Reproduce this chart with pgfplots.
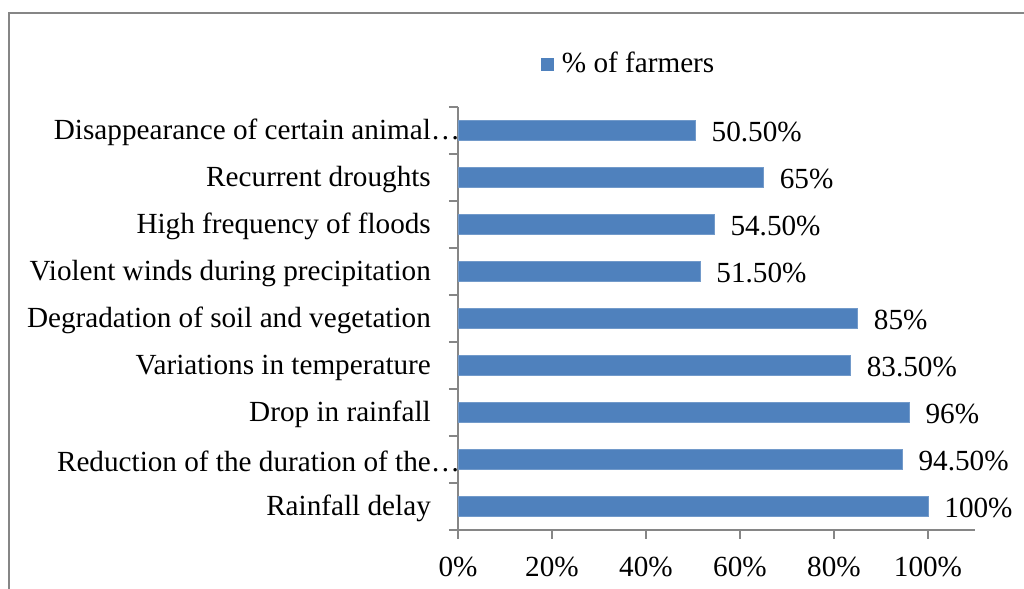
\documentclass[border=0pt]{standalone}
\usepackage{fontspec}
\setmainfont{Liberation Serif}
\usepackage{pgfplots}
\pgfplotsset{compat=1.18}
\definecolor{barblue}{HTML}{4F81BD}
\definecolor{axgray}{HTML}{868686}
\newcommand{\fsz}{\fontsize{14.6pt}{17pt}\selectfont}
\begin{document}
\fsz
\begin{tikzpicture}
\path[use as bounding box] (0pt,0pt) rectangle (512pt,294.5pt);
\draw[axgray, line width=1pt] (4.5pt,0pt) -- (4.5pt,288pt) -- (512pt,288pt);
\begin{axis}[
  at={(229pt,29.5pt)}, anchor=south west,
  scale only axis, width=258.5pt, height=211.5pt,
  xmin=0, xmax=110, ymin=-0.5, ymax=8.5,
  axis lines=left, axis line style={-, axgray, line width=1pt},
  xtick={0,20,...,100},
  xticklabel={\pgfmathprintnumber{\tick}\%},
  /pgf/number format/assume math mode=true,
  ytick={0,...,8},
  yticklabels={Rainfall delay, Reduction of the duration of the\rlap{…}, Drop in rainfall, Variations in temperature, Degradation of soil and vegetation, Violent winds during precipitation, High frequency of floods, Recurrent droughts, Disappearance of certain animal\rlap{…}},
  minor ytick={-0.5,0.5,...,8.5},
  tick align=outside,
  major tick length=4.5pt,
  minor tick length=4.5pt,
  y tick style={draw=none},
  minor y tick style={draw=axgray, line width=1pt},
  x tick style={axgray, line width=1pt},
  ticklabel style={font=\fsz},
  yticklabel style={xshift=-4pt, yshift=-1pt},
  xticklabel style={yshift=-4pt},
  legend style={at={(0.16,1.10)}, anchor=west, draw=none, fill=none, inner sep=0pt, font=\fsz},
  legend image code/.code={\fill[barblue] (0pt,-3pt) rectangle (6pt,3pt);},
]
\addplot[xbar, bar width=10pt, fill=barblue, draw=barblue!80!white,
  point meta=explicit symbolic,
  nodes near coords,
  nodes near coords style={anchor=west, inner sep=0pt, xshift=8pt, yshift=-0.5pt, font=\fsz, text=black}]
  table[meta=label] {
x y label
100 0 100\%
94.5 1 94.50\%
96 2 96\%
83.5 3 83.50\%
85 4 85\%
51.5 5 51.50\%
54.5 6 54.50\%
65 7 65\%
50.5 8 50.50\%
};
\addlegendentry{\hspace{2pt}\% of farmers}
\end{axis}
\end{tikzpicture}
\end{document}
